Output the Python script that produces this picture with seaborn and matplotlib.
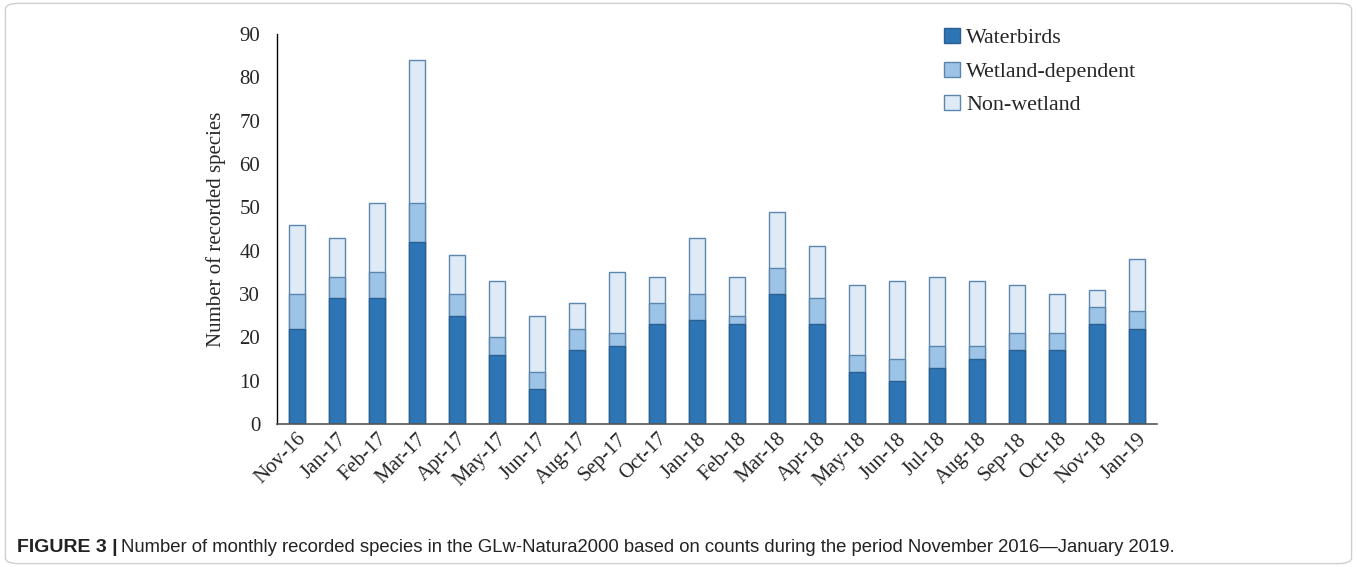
import matplotlib.pyplot as plt
import numpy as np
import pandas as pd
import seaborn as sns
from matplotlib.patches import Patch, FancyBboxPatch

# Months on the x axis
months = ['Nov-16', 'Jan-17', 'Feb-17', 'Mar-17', 'Apr-17', 'May-17', 'Jun-17',
          'Aug-17', 'Sep-17', 'Oct-17', 'Jan-18', 'Feb-18', 'Mar-18', 'Apr-18',
          'May-18', 'Jun-18', 'Jul-18', 'Aug-18', 'Sep-18', 'Oct-18', 'Nov-18', 'Jan-19']

# Number of species per group
waterbirds = [22, 29, 29, 42, 25, 16, 8, 17, 18, 23, 24, 23, 30, 23, 12, 10, 13, 15, 17, 17, 23, 22]
wetland_dependent = [8, 5, 6, 9, 5, 4, 4, 5, 3, 5, 6, 2, 6, 6, 4, 5, 5, 3, 4, 4, 4, 4]
non_wetland = [16, 9, 16, 33, 9, 13, 13, 6, 14, 6, 13, 9, 13, 12, 16, 18, 16, 15, 11, 9, 4, 12]

groups = ['Waterbirds', 'Wetland-dependent', 'Non-wetland']
colors = ['#2E75B6', '#9DC3E6', '#DEEBF7']
edges = ['#2A5F8F', '#5B86AE', '#5B86AE']

df = pd.DataFrame({
    'Month': months,
    'Waterbirds': waterbirds,
    'Wetland-dependent': wetland_dependent,
    'Non-wetland': non_wetland,
})
df['lvl1'] = df['Waterbirds']
df['lvl2'] = df['lvl1'] + df['Wetland-dependent']
df['lvl3'] = df['lvl2'] + df['Non-wetland']

sns.set_style('white')
plt.rcParams['font.family'] = ['Liberation Serif', 'DejaVu Serif']

fig = plt.figure(figsize=(13.57, 5.67), dpi=100)
ax = fig.add_axes([0.2041, 0.2522, 0.6485, 0.6878])

# stacked bars: draw cumulative totals from the top layer down
for col, c, e in [('lvl3', colors[2], edges[2]), ('lvl2', colors[1], edges[1]), ('lvl1', colors[0], edges[0])]:
    sns.barplot(data=df, x='Month', y=col, color=c, width=0.4, saturation=1,
                edgecolor=e, linewidth=1, ax=ax)

ax.set_ylim(0, 90)
ax.set_yticks(np.arange(0, 91, 10))
ax.set_xlim(-0.5, len(months) - 0.5)
ax.set_xlabel('')
ax.set_ylabel('Number of recorded species', fontsize=15, labelpad=10)
ax.tick_params(axis='y', length=0, pad=12, labelsize=15)
ax.tick_params(axis='x', length=0, pad=4, labelsize=15)
plt.setp(ax.get_xticklabels(), rotation=45, ha='right', rotation_mode='anchor')

sns.despine(ax=ax, top=True, right=True)
ax.spines['left'].set_color('black')
ax.spines['left'].set_linewidth(1)
ax.spines['bottom'].set_color('#555555')
ax.spines['bottom'].set_linewidth(1.2)

handles = [Patch(facecolor=c, edgecolor=e, label=g) for g, c, e in zip(groups, colors, edges)]
ax.legend(handles=handles, loc='upper left', bbox_to_anchor=(0.736, 1.066), frameon=False,
          fontsize=15.8, handlelength=0.7, handleheight=0.7, handletextpad=0.3, labelspacing=0.6)

# figure border and caption
fig.patches.append(FancyBboxPatch((0.004, 0.006), 0.992, 0.988, boxstyle='round,pad=0,rounding_size=0.01',
                                  transform=fig.transFigure, facecolor='none', edgecolor='#cfcfcf', linewidth=1))
fig.text(0.0125, 0.034, 'FIGURE 3 |', fontsize=14, fontweight='bold', family='Liberation Sans',
         va='center', ha='left', color='#222222')
fig.text(0.0892, 0.034,
         'Number of monthly recorded species in the GLw-Natura2000 based on counts during the period November 2016\u2014January 2019.',
         fontsize=13.3, family='Liberation Sans', va='center', ha='left', color='#222222')

fig.savefig('out.png', dpi=100)
